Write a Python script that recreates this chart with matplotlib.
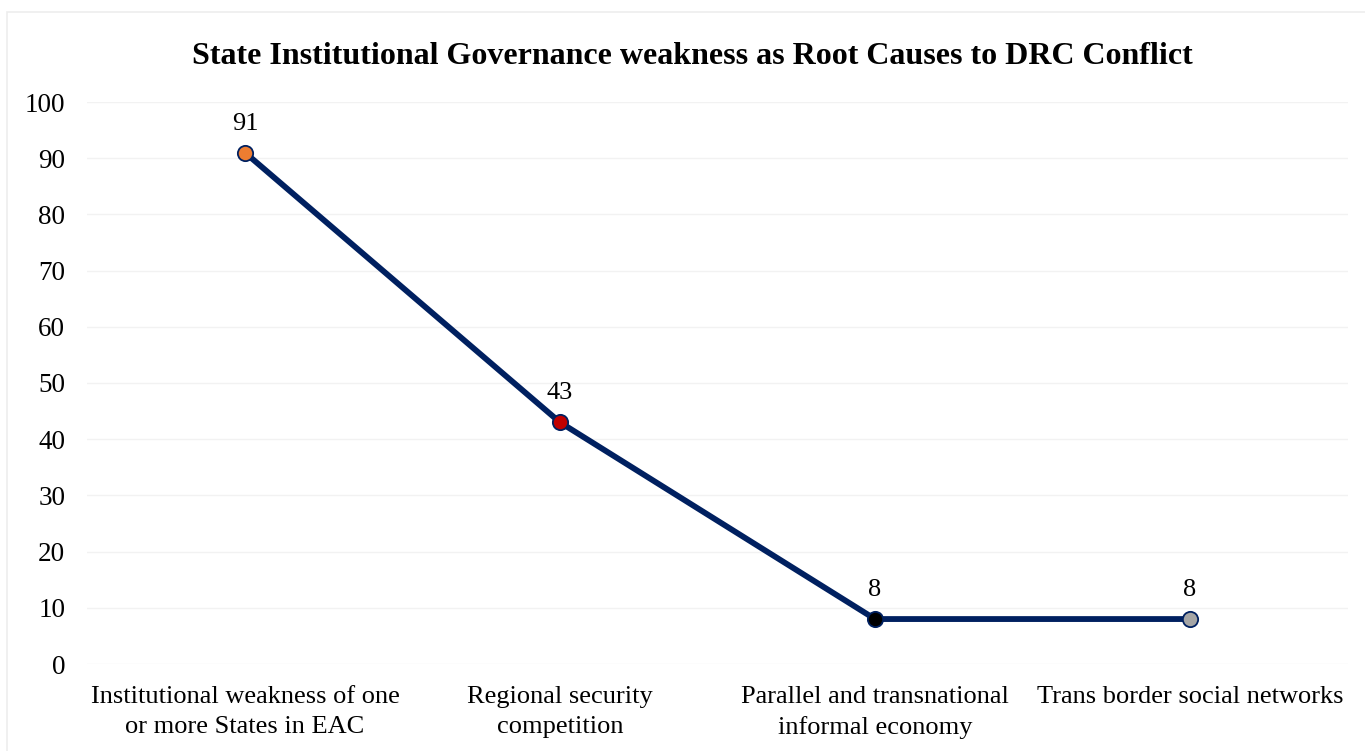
import matplotlib
matplotlib.use("Agg")
import matplotlib.pyplot as plt
from matplotlib.patches import Rectangle

categories = ["Institutional weakness of one\nor more States in EAC",
              "Regional security\ncompetition",
              "Parallel and transnational\ninformal economy",
              "Trans border social networks"]
values = [91, 43, 8, 8]
marker_colors = ["#ED7D31", "#C00000", "#000000", "#A5A5A5"]
yticks = list(range(0, 101, 10))
title = "State Institutional Governance weakness as Root Causes to DRC Conflict"

plt.rcParams['font.family'] = ['Liberation Serif', 'DejaVu Serif']

fig = plt.figure(figsize=(13.65, 7.51), dpi=100)
fig.patches.append(Rectangle((7/1365, -10/751), 1380/1365, 749/751, transform=fig.transFigure,
                             fill=False, edgecolor="#EDEDED", linewidth=1.2))
ax = fig.add_axes([87.5/1365, 1 - 664/751, 1260/1365, 562/751])

x = list(range(len(values)))
ax.plot(x, values, color="#002060", linewidth=4.2, zorder=2)
for xi, v, c in zip(x, values, marker_colors):
    ax.plot(xi, v, 'o', markersize=11, markerfacecolor=c, markeredgecolor="#002060",
            markeredgewidth=1.3, zorder=3)
    ax.annotate(str(v), (xi, v), xytext=(0, 13), textcoords="offset points",
                ha="center", va="bottom", fontsize=19)

ax.set_xlim(-0.5, len(values) - 0.5)
ax.set_ylim(0, 100)
ax.set_yticks(yticks)
ax.set_xticks(x)
ax.set_xticklabels(categories, fontsize=19, linespacing=1.45)
ax.tick_params(axis='y', labelsize=19.5, length=0, pad=16)
ax.tick_params(axis='x', length=0, pad=16)
ax.grid(axis='y', color="#F2F2F2", linewidth=1)
ax.set_axisbelow(True)
for s in ax.spines.values():
    s.set_visible(False)

fig.text(692/1365, 1 - 56/751, title, ha="center", va="center", fontsize=23, fontweight="bold")

fig.savefig("out.png", dpi=100)
